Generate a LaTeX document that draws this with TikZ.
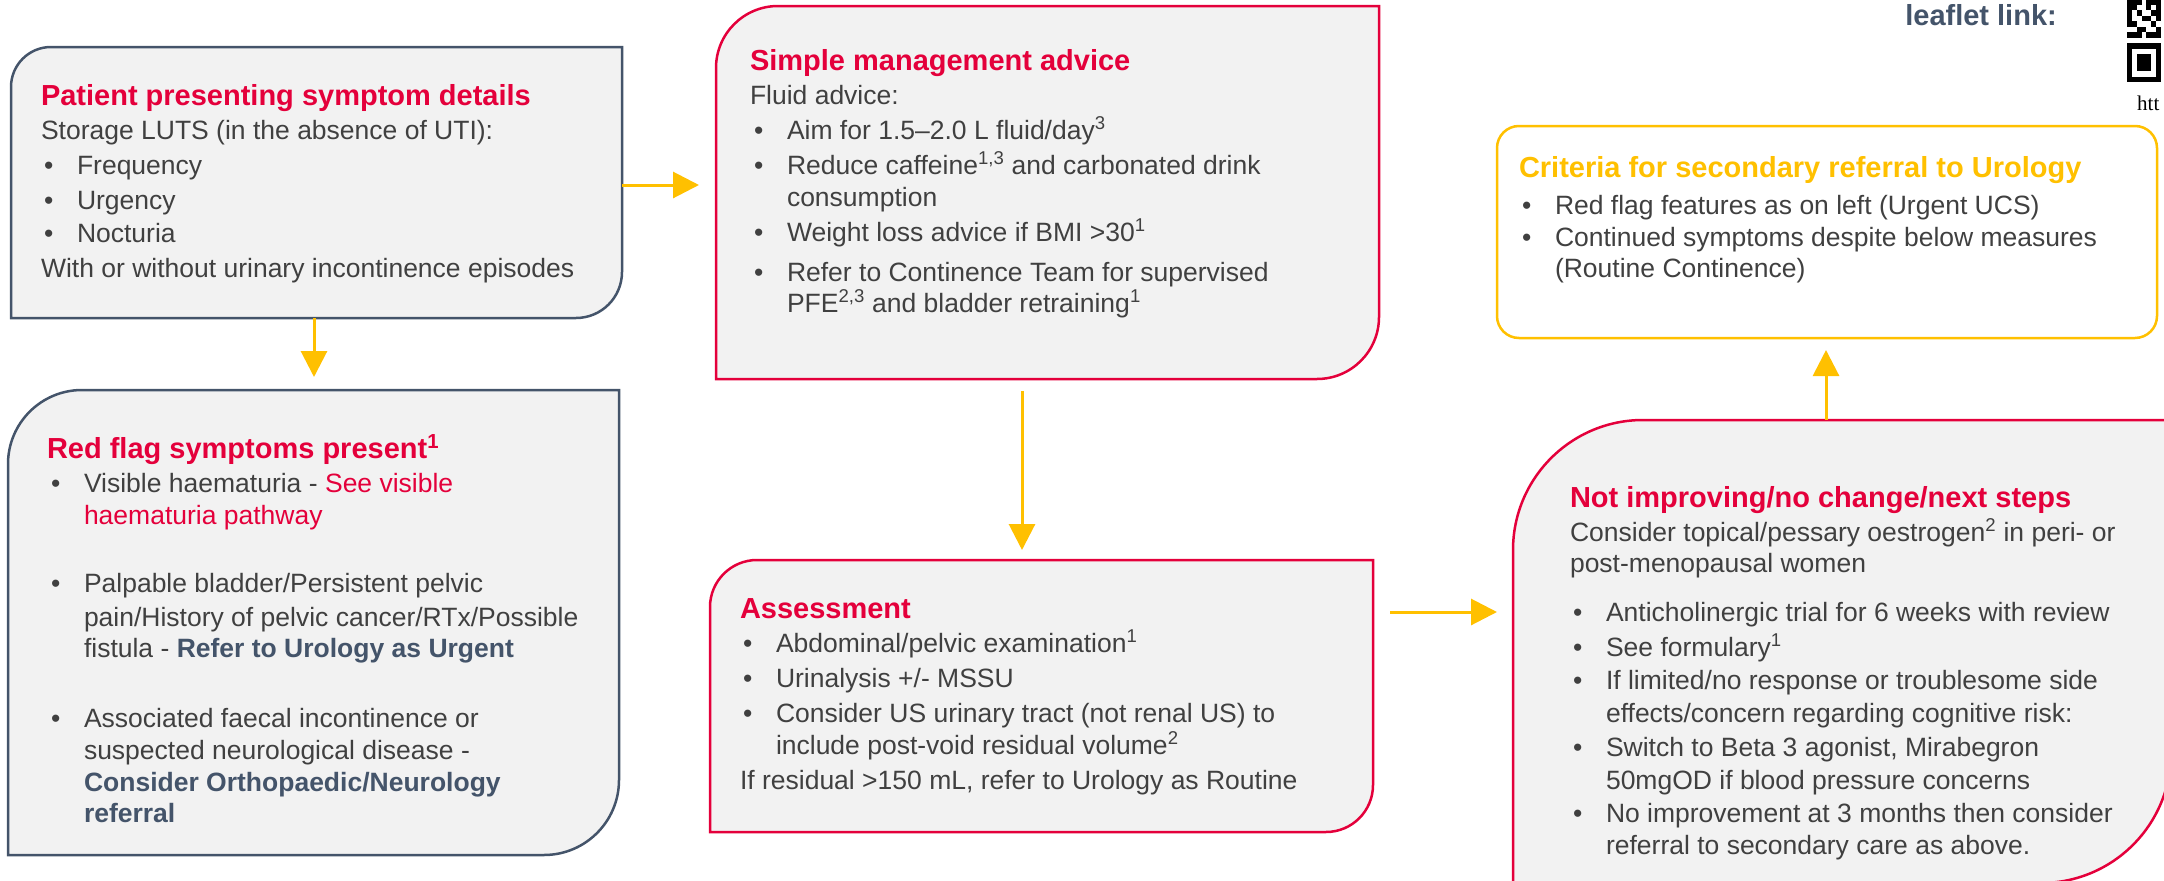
\documentclass[tikz,border=0pt]{standalone}
\usepackage{fontspec}
\setmainfont{Liberation Sans}
\newfontfamily\urlfont{Liberation Serif}
\usetikzlibrary{arrows.meta}
\definecolor{flagred}{HTML}{E4003B}
\definecolor{slate}{HTML}{44546A}
\definecolor{boxfill}{HTML}{F2F2F2}
\definecolor{bodygray}{HTML}{404040}
\definecolor{amber}{HTML}{FFC000}
\tikzset{
  ln/.style={anchor=base west, inner sep=0pt, outer sep=0pt, text=bodygray, font=\fontsize{26.5}{32}\selectfont},
  hd/.style={ln, text=flagred, font=\fontsize{29}{34}\selectfont\bfseries},
  greybox/.style={draw=slate, fill=boxfill, line width=2.5pt},
  redbox/.style={draw=flagred, fill=boxfill, line width=2.5pt},
  amberbox/.style={draw=amber, fill=white, line width=2.5pt, rounded corners=22pt},
  conn/.style={draw=amber, line width=3pt, -{Triangle[length=26pt,width=26pt]}},
  qr/.style={fill=black, draw=none},
}
\newcommand\urg[1]{{\bfseries\color{slate}#1}}
\begin{document}
\begin{tikzpicture}[x=1pt,y=-1pt]
\useasboundingbox (0,0) rectangle (2164,881);
\clip (0,0) rectangle (2164,881);

% ---------- boxes ----------
\draw[greybox] (11,87) -- (11,318) -- (576,318) arc[start angle=90,end angle=0,radius=46]
  -- (622,47) -- (51,47) arc[start angle=270,end angle=180,radius=40] -- cycle;
\draw[greybox] (8,464) -- (8,855) -- (544,855) arc[start angle=90,end angle=0,radius=75]
  -- (619,390) -- (82,390) arc[start angle=270,end angle=180,radius=74] -- cycle;
\draw[redbox] (716,68) -- (716,379) -- (1317,379) arc[start angle=90,end angle=0,radius=62]
  -- (1379,6) -- (778,6) arc[start angle=270,end angle=180,radius=62] -- cycle;
\draw[redbox] (710,607) -- (710,832) -- (1326,832) arc[start angle=90,end angle=0,radius=47]
  -- (1373,560) -- (757,560) arc[start angle=270,end angle=180,radius=47] -- cycle;
\draw[redbox] (1513,550) -- (1513,883) -- (2041,883) arc[start angle=90,end angle=0,radius=130]
  -- (2171,420) -- (1643,420) arc[start angle=270,end angle=180,radius=130] -- cycle;
\draw[amberbox] (1497,126) rectangle (2157,338);

% ---------- box 1 ----------
\node[hd] (b1h) at (41,105) {Patient presenting symptom details};
\node[ln] (b1a) at (41,139) {Storage LUTS (in the absence of UTI):};
\node[ln] (b1p1) at (44,174) {\textbullet}; \node[ln] (b1b) at (77,174) {Frequency};
\node[ln] (b1p2) at (44,209) {\textbullet}; \node[ln] (b1c) at (77,209) {Urgency};
\node[ln] (b1p3) at (44,242) {\textbullet}; \node[ln] (b1d) at (77,242) {Nocturia};
\node[ln] (b1e) at (41,277) {With or without urinary incontinence episodes};

% ---------- box 2 ----------
\node[hd] (b2h) at (47,458) {Red flag symptoms present\textsuperscript{1}};
\node[ln] (b2p1) at (51,492) {\textbullet};
\node[ln] (b2a) at (84,492) {Visible haematuria - \textcolor{flagred}{See visible}};
\node[ln] (b2b) at (84,524) {\textcolor{flagred}{haematuria pathway}};
\node[ln] (b2p2) at (51,592) {\textbullet};
\node[ln] (b2c) at (84,592) {Palpable bladder/Persistent pelvic};
\node[ln] (b2d) at (84,626) {pain/History of pelvic cancer/RTx/Possible};
\node[ln] (b2e) at (84,657) {fistula - \urg{Refer to Urology as Urgent}};
\node[ln] (b2p3) at (51,727) {\textbullet};
\node[ln] (b2f) at (84,727) {Associated faecal incontinence or};
\node[ln] (b2g) at (84,759) {suspected neurological disease -};
\node[ln] (b2h2) at (84,791) {\urg{Consider Orthopaedic/Neurology}};
\node[ln] (b2i) at (84,822) {\urg{referral}};

% ---------- box 3 ----------
\node[hd] (b3h) at (750,70) {Simple management advice};
\node[ln] (b3a) at (750,104) {Fluid advice:};
\node[ln] (b3p1) at (754,139) {\textbullet};
\node[ln] (b3b) at (787,139) {Aim for 1.5\textendash2.0 L fluid/day\textsuperscript{3}};
\node[ln] (b3p2) at (754,174) {\textbullet};
\node[ln] (b3c) at (787,174) {Reduce caffeine\textsuperscript{1,3} and carbonated drink};
\node[ln] (b3d) at (787,206) {consumption};
\node[ln] (b3p3) at (754,241) {\textbullet};
\node[ln] (b3e) at (787,241) {Weight loss advice if BMI >30\textsuperscript{1}};
\node[ln] (b3p4) at (754,281) {\textbullet};
\node[ln] (b3f) at (787,281) {Refer to Continence Team for supervised};
\node[ln] (b3g) at (787,312) {PFE\textsuperscript{2,3} and bladder retraining\textsuperscript{1}};

% ---------- box 4 ----------
\node[hd] (b4h) at (740,618) {Assessment};
\node[ln] (b4p1) at (743,652) {\textbullet};
\node[ln] (b4a) at (776,652) {Abdominal/pelvic examination\textsuperscript{1}};
\node[ln] (b4p2) at (743,687) {\textbullet};
\node[ln] (b4b) at (776,687) {Urinalysis +/- MSSU};
\node[ln] (b4p3) at (743,722) {\textbullet};
\node[ln] (b4c) at (776,722) {Consider US urinary tract (not renal US) to};
\node[ln] (b4d) at (776,754) {include post-void residual volume\textsuperscript{2}};
\node[ln] (b4e) at (740,789) {If residual >150 mL, refer to Urology as Routine};

% ---------- box 5 ----------
\node[hd] (b5h) at (1570,507) {Not improving/no change/next steps};
\node[ln] (b5a) at (1570,541) {Consider topical/pessary oestrogen\textsuperscript{2} in peri- or};
\node[ln] (b5b) at (1570,572) {post-menopausal women};
\node[ln] (b5p1) at (1573,621) {\textbullet};
\node[ln] (b5c) at (1606,621) {Anticholinergic trial for 6 weeks with review};
\node[ln] (b5p2) at (1573,656) {\textbullet};
\node[ln] (b5d) at (1606,656) {See formulary\textsuperscript{1}};
\node[ln] (b5p3) at (1573,689) {\textbullet};
\node[ln] (b5e) at (1606,689) {If limited/no response or troublesome side};
\node[ln] (b5f) at (1606,722) {effects/concern regarding cognitive risk:};
\node[ln] (b5p4) at (1573,756) {\textbullet};
\node[ln] (b5g) at (1606,756) {Switch to Beta 3 agonist, Mirabegron};
\node[ln] (b5h2) at (1606,789) {50mgOD if blood pressure concerns};
\node[ln] (b5p5) at (1573,822) {\textbullet};
\node[ln] (b5i) at (1606,822) {No improvement at 3 months then consider};
\node[ln] (b5j) at (1606,854) {referral to secondary care as above.};

% ---------- box 6 ----------
\node[hd, text=amber] (b6h) at (1519,177) {Criteria for secondary referral to Urology};
\node[ln] (b6p1) at (1522,214) {\textbullet};
\node[ln] (b6a) at (1555,214) {Red flag features as on left (Urgent UCS)};
\node[ln] (b6p2) at (1522,246) {\textbullet};
\node[ln] (b6b) at (1555,246) {Continued symptoms despite below measures};
\node[ln] (b6c) at (1555,277) {(Routine Continence)};

% ---------- top right ----------
\node[anchor=base east, inner sep=0pt, text=slate, font=\fontsize{29}{34}\selectfont\bfseries] (leaf) at (2057,25) {leaflet link:};
\node[anchor=base west, inner sep=0pt, text=black, font=\urlfont\fontsize{21}{24}\selectfont] (url) at (2137,110) {htt};
% QR fragment
\fill[qr] (2127,43) rectangle (2161,82);
\fill[white] (2132,48.5) rectangle (2156,76.5);
\fill[qr] (2137,54) rectangle (2151,71);
\foreach \c/\r in {0/0,1/0,2/0,4/0,5/0,6/0, 0/1,1/1,4/1,6/1, 0/2,2/2,5/2,6/2, 0/3,3/3,4/3,6/3, 0/4,1/4,5/4, 2/5,3/5,6/5, 0/6,1/6,2/6,4/6,5/6,6/6}
  \fill[qr] ({2127+4.86*\c},{-1+5.5*\r}) rectangle ++(4.86,5.5);

% ---------- connectors ----------
\coordinate (c12s) at (314,318); \coordinate (c12e) at (314,377);
\coordinate (c13s) at (622,185); \coordinate (c13e) at (699,185);
\coordinate (c34s) at (1022,391); \coordinate (c34e) at (1022,550);
\coordinate (c45s) at (1390,612); \coordinate (c45e) at (1497,612);
\coordinate (c56s) at (1826,420); \coordinate (c56e) at (1826,350);
\draw[conn] (c12s) -- (c12e);
\draw[conn] (c13s) -- (c13e);
\draw[conn] (c34s) -- (c34e);
\draw[conn] (c45s) -- (c45e);
\draw[conn] (c56s) -- (c56e);
\end{tikzpicture}
\end{document}
